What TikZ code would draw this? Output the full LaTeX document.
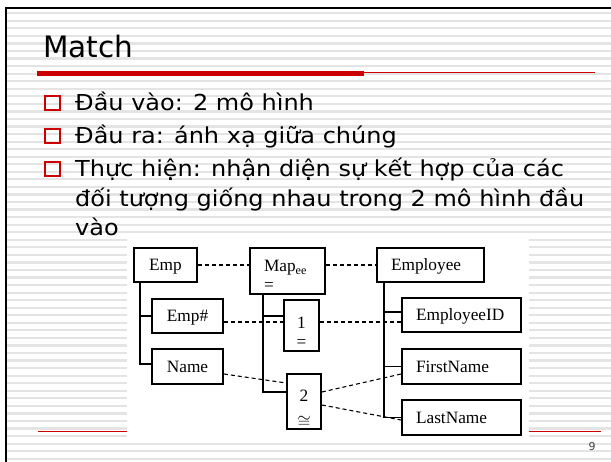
\documentclass[tikz,border=0pt]{standalone}
\usepackage{fontspec}
\setmainfont{Liberation Serif}
\newfontfamily\slidefont{DejaVu Sans}
\newfontfamily\slidewide[FakeStretch=1.09]{DejaVu Sans}
\definecolor{slidered}{HTML}{CC0000}
\definecolor{stripe}{HTML}{E4E4E4}
\newcommand\diagfont{\fontsize{17.3}{19}\selectfont}
\newcommand\bodyfont{\slidewide\fontsize{22}{29}\selectfont}

\tikzset{
  box/.style={draw, line width=1.8pt, inner xsep=14pt, inner ysep=0pt, font=\diagfont},
  single/.style={box, text height=11.5pt, text depth=0pt},
  tree/.style={line width=1.3pt},
  link/.style={line width=1.1pt, dash pattern=on 4pt off 3pt},
  bullet/.style={draw=slidered, line width=2pt, minimum size=14.5pt, inner sep=0pt},
  line/.style={anchor=base west, inner sep=0pt, font=\bodyfont},
}

\begin{document}
\begin{tikzpicture}[x=1pt, y=-1pt]
\useasboundingbox (0,0) rectangle (611,462);
% striped slide background
\fill[white] (0,0) rectangle (611,462);
\foreach \i in {0,...,59} {
  \fill[stripe] (7,13.3+7.55*\i-1.1) rectangle (611,13.3+7.55*\i+1.1);
}
% footer rule
\draw[slidered, line width=1pt] (38,432) -- (601,432);
% white panel under the diagram
\fill[white] (127,238) rectangle (529,438);
% slide frame
\draw[line width=2.5pt] (6,462) -- (6,8) -- (611,8);

% title and its underline
\node[anchor=base west, inner sep=0pt, font=\slidefont\fontsize{29.5}{30}\selectfont] (title) at (43,58) {Match};
\fill[slidered] (37,71.5) rectangle (364,76.5);
\draw[slidered, line width=1.2pt] (364,72.2) -- (595,72.2);

% bullet list
\node[bullet] (b1) at (52.5,103) {};
\node[bullet] (b2) at (52.5,136) {};
\node[bullet] (b3) at (52.5,169) {};
\node[line] (t1) at (75,111) {Đầu vào: 2 mô hình};
\node[line] (t2) at (75,144) {Đầu ra: ánh xạ giữa chúng};
\node[line] (t3a) at (75,177) {Thực hiện: nhận diện sự kết hợp của các};
\node[line] (t3b) at (75,206.5) {đối tượng giống nhau trong 2 mô hình đầu};
\node[line] (t3c) at (75,235.5) {vào};

% schema elements
\node[single, text width=35pt, align=center, minimum height=34pt] (emp) at (165.5,265) {Emp};
\node[single, text width=43pt, align=center, minimum height=34pt] (empno) at (187.5,316) {Emp\#};
\node[single, text width=43pt, align=center, minimum height=35pt] (name) at (187.5,366.5) {Name};
\node[box, text width=47pt, align=left, minimum height=46pt] (map) at (287.5,271) {\rule{0pt}{21pt}Map\textsubscript{ee}\\=};
\node[box, inner xsep=0pt, text width=35pt, align=center, minimum height=51pt] (one) at (301.5,325.5) {\rule{0pt}{25pt}1\\=};
\node[box, inner xsep=0pt, text width=34pt, align=center, minimum height=55pt] (two) at (304,401.5) {\rule{0pt}{26pt}2\\[7pt]$\cong$};
\node[single, text width=79pt, align=left, minimum height=34pt] (employee) at (430.5,265) {Employee};
\node[single, text width=91pt, align=left, minimum height=34pt] (eid) at (461.5,315) {EmployeeID};
\node[single, text width=91pt, align=left, minimum height=35pt] (first) at (461.5,366.5) {FirstName};
\node[single, text width=91pt, align=left, minimum height=35pt] (last) at (461.5,417.5) {LastName};

% containment trees
\draw[tree] ([xshift=7pt]emp.south west) |- (empno.west);
\draw[tree] ([xshift=7pt]emp.south west) |- ([yshift=2.5pt]name.west);
\draw[tree] ([xshift=14pt]map.south west) |- ([yshift=9.5pt]one.west);
\draw[tree] ([xshift=14pt]map.south west) |- ([yshift=9.5pt]two.west);
\draw[tree] ([xshift=8pt]employee.south west) |- ([yshift=3pt]eid.west);
\draw[tree] ([xshift=8pt]employee.south west) |- (first.west);
\draw[tree] ([xshift=8pt]employee.south west) |- (last.west);

% mapping links
\draw[link] (emp.east) -- (emp.east -| map.west);
\draw[link] (employee.west -| map.east) -- (employee.west);
\draw[link] ([yshift=-6pt]empno.east) -- ([yshift=-6pt]empno.east -| one.west);
\draw[link] ([yshift=3.5pt]one.east) -- ([yshift=3.5pt]one.east -| eid.west);
\draw[link] ([yshift=-7.5pt]name.east) -- ([yshift=18.5pt]two.west);
\draw[link] ([yshift=9.5pt]two.east) -- ([yshift=-7.5pt]first.west);
\draw[link] ([yshift=-3.5pt]two.east) -- ([yshift=-2.5pt]last.west);

% page number
\node[font=\slidefont\fontsize{11}{12}\selectfont, text=black!75, inner sep=0pt] (page) at (592,446) {9};
\end{tikzpicture}
\end{document}
